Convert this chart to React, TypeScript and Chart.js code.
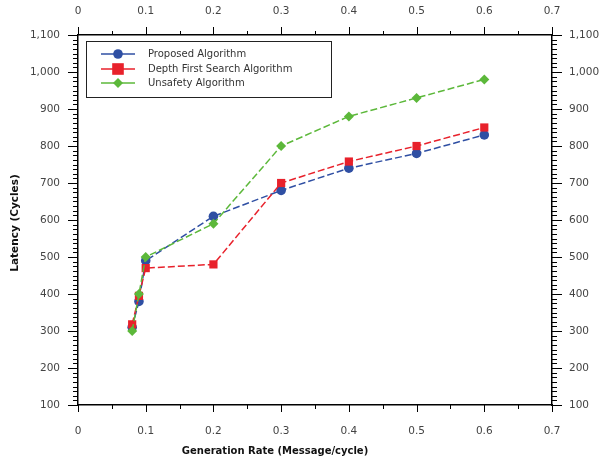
import React, { useEffect, useRef } from 'react';
import { Chart, registerables } from 'chart.js';

Chart.register(...registerables);

const rates = [0.08, 0.09, 0.1, 0.2, 0.3, 0.4, 0.5, 0.6];
const proposed = [310, 380, 490, 610, 680, 740, 780, 830];
const dfs = [318, 395, 470, 480, 700, 758, 800, 850];
const unsafety = [300, 400, 500, 590, 800, 880, 930, 980];
const seriesNames = ['Proposed Algorithm', 'Depth First Search Algorithm', 'Unsafety Algorithm'];
const seriesColors = ['#2f4fa3', '#e8212b', '#5cb83a'];
const seriesMarkers = ['circle', 'rect', 'rectRot'];
const seriesRadius = [4.8, 5.8, 5];
const xTitle = 'Generation Rate (Message/cycle)';
const yTitle = 'Latency (Cycles)';
const xMin = 0, xMax = 0.7, xStep = 0.1;
const yMin = 100, yMax = 1100, yStep = 100;

const FONT = "'DejaVu Sans', sans-serif";

const fmtX = (v: number) => {
  const r = Math.round(v * 10) / 10;
  return r === 0 ? '0' : String(r);
};
const fmtY = (v: number) => Math.round(v).toLocaleString('en-US');

const ticksPlugin = {
  id: 'customTicks',
  afterDraw(chart: any) {
    const ctx = chart.ctx;
    const { left, right, top, bottom } = chart.chartArea;
    ctx.save();
    ctx.strokeStyle = '#000';
    ctx.lineWidth = 1;
    const line = (x1: number, y1: number, x2: number, y2: number) => {
      ctx.beginPath();
      ctx.moveTo(x1, y1);
      ctx.lineTo(x2, y2);
      ctx.stroke();
    };
    const xs = chart.scales.x;
    const nx = Math.round((xMax - xMin) / (xStep / 2));
    for (let i = 0; i <= nx; i++) {
      const v = xMin + (i * xStep) / 2;
      const px = Math.round(xs.getPixelForValue(v)) + 0.5;
      const major = i % 2 === 0;
      line(px, bottom, px, bottom + (major ? 7 : 4));
      line(px, top, px, top - (major ? 8 : 4));
    }
    const ys = chart.scales.y;
    const ny = Math.round((yMax - yMin) / (yStep / 8));
    for (let i = 0; i <= ny; i++) {
      const v = yMin + (i * yStep) / 8;
      const py = Math.round(ys.getPixelForValue(v)) + 0.5;
      const major = i % 8 === 0;
      const len = major ? 10 : 5;
      line(left - len, py, left, py);
      line(right, py, right + len, py);
    }
    ctx.restore();
  },
};

const titlesPlugin = {
  id: 'axisTitles',
  afterDraw(chart: any) {
    const ctx = chart.ctx;
    const { top, bottom } = chart.chartArea;
    ctx.save();
    ctx.fillStyle = '#111';
    ctx.font = `bold 10px ${FONT}`;
    ctx.textAlign = 'center';
    ctx.textBaseline = 'middle';
    ctx.fillText(xTitle, 275, 451);
    ctx.translate(15, (top + bottom) / 2 + 3);
    ctx.rotate(-Math.PI / 2);
    ctx.font = `bold 10.5px ${FONT}`;
    ctx.fillText(yTitle, 0, 0);
    ctx.restore();
  },
};

const legendPlugin = {
  id: 'boxLegend',
  afterDraw(chart: any) {
    const ctx = chart.ctx;
    ctx.save();
    const bx = 86.5, by = 41.5, bw = 245, bh = 56;
    ctx.fillStyle = '#fff';
    ctx.fillRect(bx, by, bw, bh);
    ctx.strokeStyle = '#222';
    ctx.lineWidth = 1;
    ctx.strokeRect(bx, by, bw, bh);
    const rows = [54, 69, 83];
    seriesNames.forEach((name, i) => {
      const y = rows[i];
      ctx.strokeStyle = seriesColors[i];
      ctx.lineWidth = 1.5;
      ctx.beginPath();
      ctx.moveTo(101, y);
      ctx.lineTo(135, y);
      ctx.stroke();
      ctx.fillStyle = seriesColors[i];
      const r = seriesRadius[i];
      if (seriesMarkers[i] === 'circle') {
        ctx.beginPath();
        ctx.arc(118, y, r, 0, Math.PI * 2);
        ctx.fill();
      } else if (seriesMarkers[i] === 'rect') {
        ctx.fillRect(118 - r, y - r, 2 * r, 2 * r);
      } else {
        ctx.beginPath();
        ctx.moveTo(118, y - r);
        ctx.lineTo(118 + r, y);
        ctx.lineTo(118, y + r);
        ctx.lineTo(118 - r, y);
        ctx.closePath();
        ctx.fill();
      }
      ctx.fillStyle = '#333';
      ctx.font = `10px ${FONT}`;
      ctx.textAlign = 'left';
      ctx.textBaseline = 'middle';
      ctx.fillText(name, 148, y);
    });
    ctx.restore();
  },
};

export default function App() {
  const ref = useRef<HTMLCanvasElement | null>(null);
  useEffect(() => {
    if (!ref.current) return;
    const allSeries = [proposed, dfs, unsafety];
    const orders = [2, 1, 0];
    const datasets = allSeries.map((vals, i) => ({
      label: seriesNames[i],
      data: rates.map((x, j) => ({ x, y: vals[j] })),
      borderColor: seriesColors[i],
      backgroundColor: seriesColors[i],
      borderWidth: 1.5,
      borderDash: [7, 3],
      pointStyle: seriesMarkers[i],
      pointRadius: seriesRadius[i],
      pointBorderWidth: 0,
      showLine: true,
      order: orders[i],
      xAxisID: 'x',
      yAxisID: 'y',
    }));
    const tickFont = { family: FONT, size: 10.5 };
    const border = { display: true, color: '#000', width: 1.5 };
    const grid = { display: true, drawOnChartArea: false, drawTicks: false };
    const chart = new Chart(ref.current, {
      type: 'scatter',
      data: { datasets: datasets as any },
      plugins: [ticksPlugin, titlesPlugin, legendPlugin],
      options: {
        animation: false,
        responsive: false,
        maintainAspectRatio: false,
        layout: { padding: 0 },
        plugins: { legend: { display: false }, tooltip: { enabled: false } },
        scales: {
          x: {
            type: 'linear', position: 'bottom', min: xMin, max: xMax,
            ticks: { stepSize: xStep, callback: (v: any) => fmtX(v), font: tickFont, color: '#444', padding: 20 },
            grid, border,
            afterFit: (s: any) => { s.height = 56; },
          },
          x2: {
            type: 'linear', position: 'top', min: xMin, max: xMax,
            ticks: { stepSize: xStep, callback: (v: any) => fmtX(v), font: tickFont, color: '#444', padding: 17 },
            grid, border,
            afterFit: (s: any) => { s.height = 35; },
          },
          y: {
            type: 'linear', position: 'left', min: yMin, max: yMax,
            ticks: { stepSize: yStep, callback: (v: any) => fmtY(v), font: tickFont, color: '#444', padding: 18 },
            grid, border,
            afterFit: (s: any) => { s.width = 78; },
          },
          y2: {
            type: 'linear', position: 'right', min: yMin, max: yMax,
            ticks: { stepSize: yStep, callback: (v: any) => fmtY(v), font: tickFont, color: '#444', padding: 17 },
            grid, border,
            afterFit: (s: any) => { s.width = 50; },
          },
        },
      } as any,
    });
    return () => chart.destroy();
  }, []);
  return (
    <div style={{ position: 'fixed', left: 0, top: 0, width: 602, height: 461, background: '#fff' }}>
      <canvas ref={ref} width={602} height={461} style={{ width: 602, height: 461 }} />
    </div>
  );
}
